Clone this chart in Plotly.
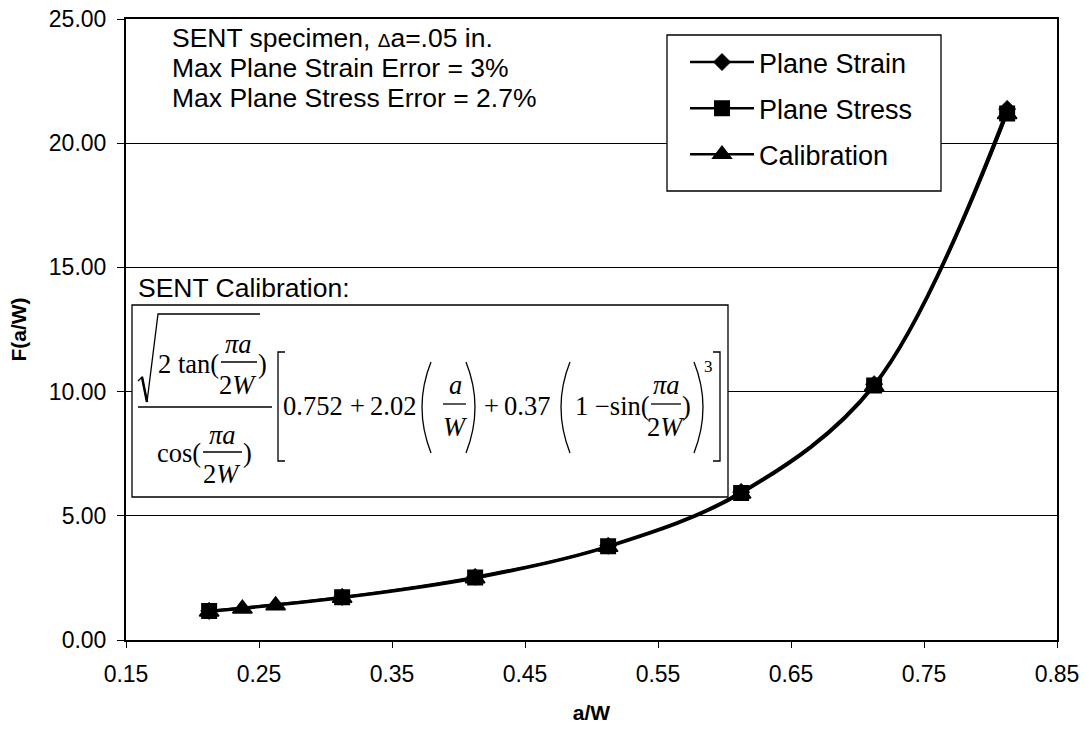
import plotly.graph_objects as go

# ---- data -------------------------------------------------------------
aw_fe = [0.2125, 0.3125, 0.4125, 0.5125, 0.6125, 0.7125, 0.8125]
f_plane_strain = [1.17, 1.73, 2.54, 3.79, 5.96, 10.30, 21.38]
f_plane_stress = [1.17, 1.72, 2.52, 3.77, 5.92, 10.25, 21.20]

aw_cal = [0.2125, 0.2375, 0.2625, 0.3125, 0.4125, 0.5125, 0.6125, 0.7125, 0.8125]
f_calibration = [1.14, 1.26, 1.39, 1.69, 2.48, 3.74, 5.89, 10.21, 21.17]

series_names = ["Plane Strain", "Plane Stress", "Calibration"]
x_ticks = [0.15, 0.25, 0.35, 0.45, 0.55, 0.65, 0.75, 0.85]
y_ticks = [0, 5, 10, 15, 20, 25]

# ---- page geometry (pixels) --------------------------------------------
W, H = 1089, 734
PL, PR, PT, PB = 126, 1057, 19, 640


def fx(px):
    return (px - PL) / (PR - PL)


def fy(py):
    return (PB - py) / (PB - PT)


SANS = "Liberation Sans, Arial, sans-serif"
SERIF = "Liberation Serif, Times New Roman, serif"

fig = go.Figure()

line_style = dict(color="black", width=2.5, shape="spline", smoothing=1.0)
fig.add_trace(go.Scatter(
    x=aw_fe, y=f_plane_strain, name=series_names[0], mode="lines+markers",
    line=line_style, legendgroup="g1",
    marker=dict(symbol="diamond", size=13, color="black", line=dict(color="black", width=1)),
))
fig.add_trace(go.Scatter(
    x=aw_fe, y=f_plane_stress, name=series_names[1], mode="lines+markers",
    line=line_style, legendgroup="g2",
    marker=dict(symbol="square", size=14, color="black", line=dict(color="black", width=2)),
))
fig.add_trace(go.Scatter(
    x=aw_cal, y=f_calibration, name=series_names[2], mode="lines+markers",
    line=line_style, legendgroup="g3",
    marker=dict(symbol="triangle-up", size=17, color="black", line=dict(color="black", width=1.5)),
))

annotations = []
shapes = []


def text(s, x, y, size, family=SERIF, xanchor="center", yanchor="middle"):
    annotations.append(dict(
        text=s, x=fx(x), y=fy(y), xref="paper", yref="paper",
        xanchor=xanchor, yanchor=yanchor, showarrow=False,
        font=dict(family=family, size=size, color="black"),
    ))


def seg(x0, y0, x1, y1, width=1.3):
    shapes.append(dict(
        type="line", xref="paper", yref="paper",
        x0=fx(x0), y0=fy(y0), x1=fx(x1), y1=fy(y1),
        line=dict(color="black", width=width), layer="above",
    ))


def path(points, width=1.3, curve=False):
    if curve:
        (x0, y0), (xc, yc), (x1, y1) = points
        d = f"M {fx(x0)},{fy(y0)} Q {fx(xc)},{fy(yc)} {fx(x1)},{fy(y1)}"
    else:
        d = "M " + " L ".join(f"{fx(x)},{fy(y)}" for x, y in points)
    shapes.append(dict(
        type="path", xref="paper", yref="paper", path=d,
        line=dict(color="black", width=width), layer="above",
    ))


def box(x0, y0, x1, y1):
    shapes.append(dict(
        type="rect", xref="paper", yref="paper",
        x0=fx(x0), y0=fy(y0), x1=fx(x1), y1=fy(y1),
        line=dict(color="black", width=1.3), fillcolor="white", layer="above",
    ))


# header notes
text("SENT specimen, <span style='font-size:19px'>Δ</span>a=.05 in.", 170, 38, 26.5, SANS, xanchor="left")
text("Max Plane Strain Error = 3%", 170, 68, 26.5, SANS, xanchor="left")
text("Max Plane Stress Error = 2.7%", 170, 98, 26.5, SANS, xanchor="left")

# legend frame (the legend itself sits on top of it)
box(667, 35, 941, 191)

# calibration equation panel
text("SENT Calibration:", 136, 288, 26.5, SANS, xanchor="left")
box(132, 305, 728, 497)

FS = 26.5
# radical sign
path([(138, 381), (142, 377), (147, 402), (158, 314), (260, 314)], width=1.3)
seg(142, 377, 147, 402, width=2.5)
text("2 tan(", 221, 364, FS, xanchor="right")
text("<i>πa</i>", 238, 344, FS)
seg(221, 362, 257, 362)
text("2<i>W</i>", 238, 385, FS)
text(")", 262, 364, FS)
# main fraction bar
seg(138, 407, 272, 407)
text("cos(", 203, 453, FS, xanchor="right")
text("<i>πa</i>", 222, 435, FS)
seg(203, 452, 242, 452)
text("2<i>W</i>", 222, 474, FS)
text(")", 247, 453, FS)

# left bracket
path([(285, 352), (278, 352), (278, 461), (285, 461)])
text("0.752", 345, 406, FS, xanchor="right")
text("+", 357, 406, FS)
text("2.02", 368, 406, FS, xanchor="left")
# ( a / W )
path([(431, 362), (413, 407), (431, 453)], curve=True)
text("<i>a</i>", 455, 385, FS)
seg(443, 404, 466, 404)
text("<i>W</i>", 455, 427, FS)
path([(466, 362), (484, 407), (466, 453)], curve=True)
text("+", 491, 406, FS)
text("0.37", 502, 406, FS, xanchor="left")
# ( 1 - sin(pi a / 2W) )^3
path([(570, 362), (552, 407), (570, 453)], curve=True)
text("1 −sin(", 573, 406, FS, xanchor="left")
text("<i>πa</i>", 666, 385, FS)
seg(651, 404, 681, 404)
text("2<i>W</i>", 666, 427, FS)
text(")", 686, 406, FS)
path([(694, 362), (712, 407), (694, 453)], curve=True)
text("3", 708, 366, 17)
# right bracket
path([(713, 352), (720, 352), (720, 461), (713, 461)])

fig.update_layout(
    width=W, height=H,
    margin=dict(l=PL, r=W - PR, t=PT, b=H - PB, autoexpand=False),
    paper_bgcolor="white", plot_bgcolor="white",
    font=dict(family=SANS, color="black"),
    showlegend=True,
    legend=dict(
        x=fx(685), y=fy(38), xanchor="left", yanchor="top",
        bgcolor="rgba(0,0,0,0)", borderwidth=0,
        font=dict(family=SANS, size=27, color="black"),
        itemwidth=64, tracegroupgap=8, traceorder="grouped",
    ),
    xaxis=dict(
        range=[0.15, 0.85], tickvals=x_ticks, tickformat=".2f",
        showgrid=False, zeroline=False,
        showline=True, linecolor="black", linewidth=2, mirror=True,
        ticks="outside", ticklen=6, tickwidth=1, tickcolor="black",
        tickfont=dict(family=SANS, size=23, color="black"),
        ticklabelstandoff=6,
        title=dict(text="<b>a/W</b>", font=dict(family=SANS, size=21, color="black"), standoff=20),
    ),
    yaxis=dict(
        range=[0, 25], tickvals=y_ticks, tickformat=".2f",
        showgrid=True, gridcolor="black", gridwidth=1, zeroline=False,
        showline=True, linecolor="black", linewidth=2, mirror=True,
        ticks="outside", ticklen=7, tickwidth=1, tickcolor="black",
        tickfont=dict(family=SANS, size=23, color="black"),
        ticklabelstandoff=6,
        title=dict(text="<b>F(a/W)</b>", font=dict(family=SANS, size=21, color="black"), standoff=16),
    ),
    annotations=annotations,
    shapes=shapes,
)

fig.write_html("out.html")
